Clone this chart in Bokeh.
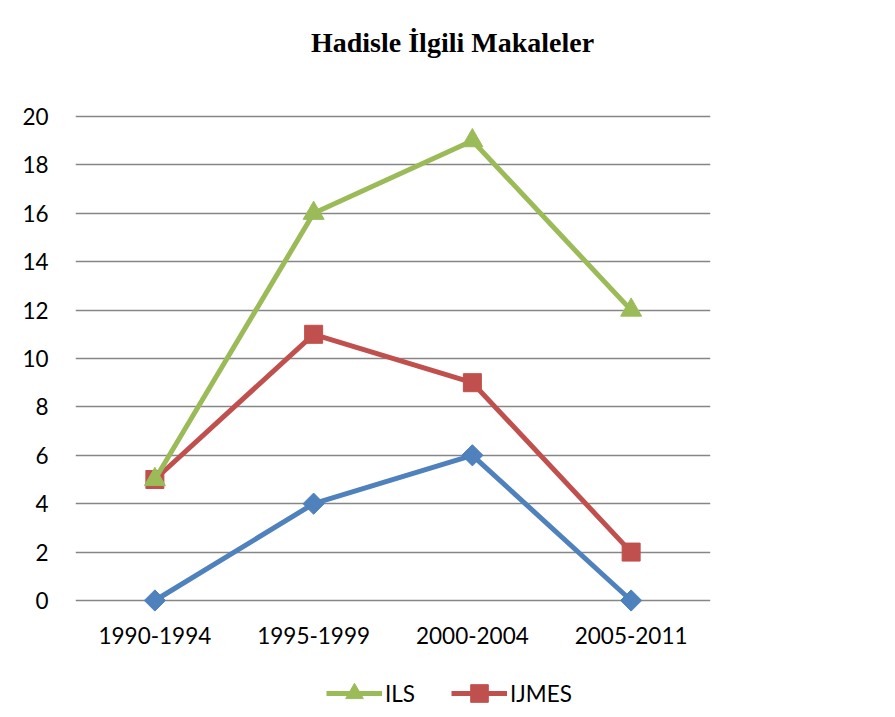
import math
from bokeh.plotting import figure
from bokeh.models import FactorRange, FixedTicker, Legend, LegendItem, Label
from bokeh.core.properties import value
from bokeh.embed import file_html
from bokeh.resources import INLINE

periods = ["1990-1994", "1995-1999", "2000-2004", "2005-2011"]
ils = [5, 16, 19, 12]
ijmes = [5, 11, 9, 2]
third = [0, 4, 6, 0]
y_ticks = list(range(0, 21, 2))
title_text = "Hadisle İlgili Makaleler"

W, H = 895, 717
p = figure(width=W, height=H, output_backend="svg", toolbar_location=None,
           x_range=FactorRange(*periods, range_padding=0),
           y_range=(-4.835, 24.793), title=None)
p.min_border_left = 75
p.min_border_right = 185
p.min_border_top = 0
p.min_border_bottom = 0
p.outline_line_color = None
p.background_fill_color = "white"
p.border_fill_color = "white"

FS = "22.5px"
p.yaxis.ticker = FixedTicker(ticks=y_ticks)
p.yaxis.axis_line_color = None
p.yaxis.major_tick_line_color = None
p.yaxis.minor_tick_line_color = None
p.yaxis.major_label_standoff = 21
p.yaxis.major_label_text_font = "Lato"
p.yaxis.major_label_text_font_size = FS
p.yaxis.major_label_text_color = "black"

p.xaxis.visible = False
p.xgrid.grid_line_color = None
p.ygrid.ticker = FixedTicker(ticks=y_ticks)
p.ygrid.grid_line_color = "#868686"
p.ygrid.grid_line_width = 1.6

# category labels under the zero line
p.text(x=periods, y=[-1.45] * len(periods), text=periods, text_align="center",
       text_baseline="middle", text_font=value("Lato"), text_font_size=FS,
       text_color="black")

blue, red, green = "#4F81BD", "#C0504D", "#9BBB59"

bl = p.line(periods, third, line_color=blue, line_width=5)
bm = p.scatter(periods, third, marker="square", angle=math.pi / 4, size=15,
               fill_color=blue, line_color=blue)
rl = p.line(periods, ijmes, line_color=red, line_width=5)
rm = p.scatter(periods, ijmes, marker="square", size=18, fill_color=red, line_color=red)
gl = p.line(periods, ils, line_color=green, line_width=5)
gm = p.scatter(periods, ils, marker="triangle", size=21, fill_color=green, line_color=green)

legend = Legend(items=[LegendItem(label="ILS", renderers=[gl, gm]),
                       LegendItem(label="IJMES", renderers=[rl, rm])],
                orientation="horizontal", location=(251, 2),
                label_text_font="Lato", label_text_font_size=FS,
                label_text_color="black", glyph_width=56, glyph_height=44,
                label_standoff=3, spacing=36, padding=4, margin=0,
                border_line_color=None, background_fill_alpha=0)
p.add_layout(legend, "center")

title = Label(x=2.375, y=23.06, text=title_text, text_align="center",
              text_baseline="middle", text_font="Liberation Serif",
              text_font_style="bold", text_font_size="28px", text_color="black")
p.add_layout(title)

open("out.html", "w").write(file_html(p, INLINE))
